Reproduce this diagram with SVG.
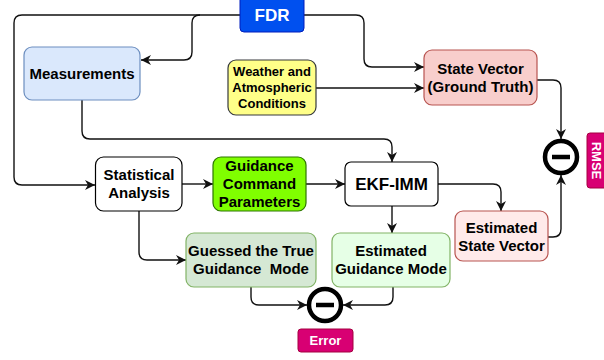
<svg xmlns="http://www.w3.org/2000/svg" width="604" height="360" viewBox="0 0 604 360">
<style>
text{font-family:"Liberation Sans",Arial,sans-serif;font-weight:bold;text-anchor:middle;fill:#000}
.t15{font-size:15px}
.t13{font-size:13px}
.w{fill:#fff}
.c{fill:none;stroke:#111;stroke-width:1.4}
.minus{fill:none;stroke:#000;stroke-width:4.5}
</style>
<defs>
<marker id="a" markerUnits="userSpaceOnUse" markerWidth="12" markerHeight="10" refX="10" refY="5" orient="auto">
<path d="M0,0 L10,5 L0,10 L3,5 z" fill="#111"/>
</marker>
</defs>
<g id="connectors">
<path class="c" d="M240,15 H22 Q14,15 14,23 V177 Q14,185 22,185 H95" marker-end="url(#a)"/>
<path class="c" d="M200,15 Q192,15 192,23 V52 Q192,60 184,60 H141" marker-end="url(#a)"/>
<path class="c" d="M304,15 H356 Q364,15 364,23 V59 Q364,67 372,67 H424" marker-end="url(#a)"/>
<path class="c" d="M316,88 H424" marker-end="url(#a)"/>
<path class="c" d="M82,100 V131 Q82,139 90,139 H384 Q392,139 392,147 V162" marker-end="url(#a)"/>
<path class="c" d="M182,184 H213" marker-end="url(#a)"/>
<path class="c" d="M306,184 H345" marker-end="url(#a)"/>
<path class="c" d="M438,184 H493 Q501,184 501,192 V211" marker-end="url(#a)"/>
<path class="c" d="M392,206 V233" marker-end="url(#a)"/>
<path class="c" d="M139,211 V252 Q139,260 147,260 H186" marker-end="url(#a)"/>
<path class="c" d="M251,287 V297 Q251,305 259,305 H307" marker-end="url(#a)"/>
<path class="c" d="M393,287 V297 Q393,305 385,305 H343" marker-end="url(#a)"/>
<path class="c" d="M537,80 H553 Q561,80 561,88 V139" marker-end="url(#a)"/>
<path class="c" d="M548,237 H553 Q561,237 561,229 V175" marker-end="url(#a)"/>
</g>
<g id="fdr">
<rect x="240" y="-4" width="64" height="36" rx="4" fill="#0050ef" stroke="#001dbc"/>
<text x="272" y="21" class="w" style="font-size:17px">FDR</text>
</g>
<g id="measurements">
<rect x="24" y="47" width="116" height="53" rx="8" fill="#dae8fc" stroke="#6c8ebf" stroke-width="1.2"/>
<text x="82" y="79" class="t15">Measurements</text>
</g>
<g id="weather">
<rect x="228" y="60" width="88" height="55" rx="8" fill="#ffff88" stroke="#36393d" stroke-width="1.2"/>
<text x="272" y="76" class="t13">Weather and</text>
<text x="272" y="92" class="t13">Atmospheric</text>
<text x="272" y="108" class="t13">Conditions</text>
</g>
<g id="state-vector">
<rect x="424" y="50" width="113" height="55" rx="8" fill="#f8cecc" stroke="#b85450" stroke-width="1.2"/>
<text x="480.5" y="74" class="t15">State Vector</text>
<text x="480.5" y="92" class="t15">(Ground Truth)</text>
</g>
<g id="rmse-op">
<circle cx="561" cy="157" r="16" fill="#fff" stroke="#000" stroke-width="4.5"/>
<line class="minus" x1="552" y1="157" x2="570" y2="157"/>
</g>
<g id="rmse">
<rect x="587" y="133" width="22" height="55" rx="3" fill="#d80073" stroke="#a50040"/>
<text x="0" y="0" class="w t13" transform="translate(592,160.5) rotate(90)">RMSE</text>
</g>
<g id="statistical-analysis">
<rect x="95.5" y="157" width="86.5" height="54" rx="8" fill="#fff" stroke="#000" stroke-width="1.2"/>
<text x="139" y="180" class="t15">Statistical</text>
<text x="139" y="198" class="t15">Analysis</text>
</g>
<g id="guidance-command">
<rect x="213" y="157" width="93" height="54" rx="8" fill="#80ff00" stroke="#2d7600" stroke-width="1.2"/>
<text x="259.5" y="171" class="t15">Guidance</text>
<text x="259.5" y="189" class="t15">Command</text>
<text x="259.5" y="207" class="t15">Parameters</text>
</g>
<g id="ekf-imm">
<rect x="345" y="162" width="93" height="44" rx="6" fill="#fff" stroke="#000" stroke-width="1.2"/>
<text x="391.5" y="190" style="font-size:17px">EKF-IMM</text>
</g>
<g id="estimated-state-vector">
<rect x="455" y="211" width="93" height="50" rx="8" fill="#ffeaea" stroke="#b85450" stroke-width="1.2"/>
<text x="501.5" y="233" class="t15">Estimated</text>
<text x="501.5" y="251" class="t15">State Vector</text>
</g>
<g id="estimated-guidance-mode">
<rect x="332" y="233" width="118" height="54" rx="8" fill="#e6ffe6" stroke="#82b366" stroke-width="1.2"/>
<text x="391" y="256" class="t15">Estimated</text>
<text x="391" y="274" class="t15">Guidance Mode</text>
</g>
<g id="guessed-mode">
<rect x="186" y="233" width="130" height="54" rx="8" fill="#d5e8d4" stroke="#82b366" stroke-width="1.2"/>
<text x="251" y="256" class="t15">Guessed the True</text>
<text x="251" y="274" class="t15" xml:space="preserve">Guidance  Mode</text>
</g>
<g id="error-op">
<circle cx="325" cy="305" r="16" fill="#fff" stroke="#000" stroke-width="4.5"/>
<line class="minus" x1="316" y1="305" x2="334" y2="305"/>
</g>
<g id="error">
<rect x="298" y="329" width="55" height="23" rx="3" fill="#d80073" stroke="#a50040"/>
<text x="325.5" y="345" class="w t13">Error</text>
</g>
</svg>
